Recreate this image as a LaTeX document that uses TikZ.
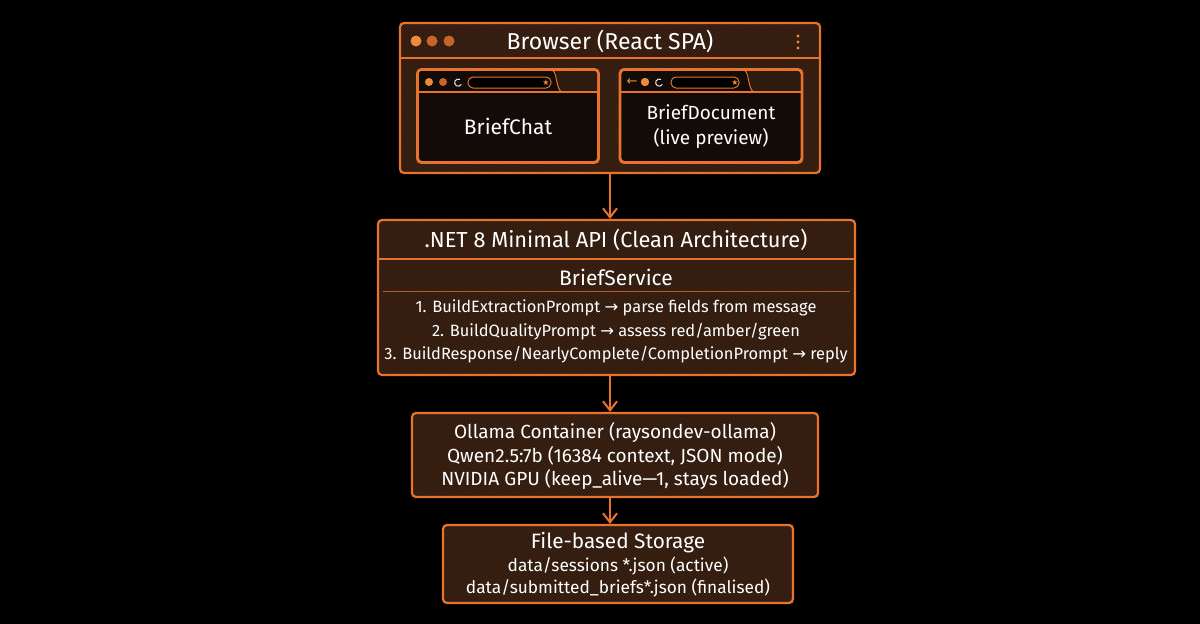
\documentclass[tikz,border=0pt]{standalone}
\usepackage{fontspec}
\setmainfont{Fira Sans}
\newfontfamily\symfont{DejaVu Sans}
\usetikzlibrary{arrows.meta,patterns,calc}
\definecolor{org}{HTML}{E8732C}
\definecolor{orgdim}{HTML}{B85A24}
\definecolor{dotA}{HTML}{F0893C}
\definecolor{dotB}{HTML}{C8642A}
\definecolor{boxfill}{HTML}{3E2415}
\definecolor{streak}{HTML}{24140A}
\definecolor{winfill}{HTML}{120B07}
\definecolor{hdrfill}{HTML}{2E1B0F}
\newcommand{\rarr}{{\symfont →}}
\begin{document}
\begin{tikzpicture}[x=1pt,y=-1pt,
  box/.style={draw=org, line width=2.2pt, rounded corners=4pt,
    preaction={fill=boxfill}, pattern=north east lines, pattern color=streak,
    inner sep=0pt},
  win/.style={draw=org, line width=1.8pt, rounded corners=4pt, fill=winfill, inner sep=0pt},
  sep/.style={draw=org, line width=1.8pt},
  thinsep/.style={draw=orgdim, line width=0.8pt},
  txt/.style={text=white, inner sep=0pt, align=center},
  arr/.style={draw=org, line width=2pt, -{Straight Barb[length=9pt,width=14pt,line width=2pt]}},
  addr/.style={draw=org, line width=1pt, rounded corners=5pt, fill=black},
]
\useasboundingbox (0,0) rectangle (1200,624);
\fill[black] (0,0) rectangle (1200,624);

% ---------------- Browser ----------------
\node[box, minimum width=420pt, minimum height=150pt] (browser) at (610,98) {};
\draw[sep] (browser.west |- 0,58) -- (browser.east |- 0,58);
\node[txt, font=\fontsize{23}{25}\selectfont] (browsertitle) at (610,41) {Browser (React SPA)};
\fill[dotA] (416,41) circle (5.5pt);
\fill[dotB] (432,41) circle (5.5pt);
\fill[dotB] (449,41) circle (5.5pt);
\foreach \yy in {36,42,48} \fill[dotA] (798,\yy) circle (1.7pt);

% inner window: BriefChat
\node[win, minimum width=180pt, minimum height=92pt] (chat) at (508,116) {};
\fill[hdrfill] (419,92) [rounded corners=3pt] -- (419,71) -- (597,71) [sharp corners] -- (597,92) -- cycle;
\fill[winfill] (419,92) [rounded corners=3pt] -- (419,71) -- (553,71) [sharp corners] .. controls (557,72) and (556,90) .. (562,92) -- cycle;
\draw[org, line width=1pt] (553,71) .. controls (557,72) and (556,90) .. (562,92);
\draw[win, fill=none] (chat.north west) rectangle (chat.south east);
\draw[sep] (chat.west |- 0,92) -- (chat.east |- 0,92);
\fill[dotA] (429,82) circle (4pt);
\fill[dotB] (443,82) circle (4pt);
\draw[white!85!gray, line width=1pt] (460,79.5) arc[start angle=60, end angle=330, radius=3.6pt];
\draw[addr] (468,77) rectangle (551,88);
\node[txt, text=dotA, font=\symfont\fontsize{8}{8}\selectfont] (chatstar) at (546,82.5) {★};
\node[txt, font=\fontsize{21}{23}\selectfont] (chatlabel) at (508,126) {BriefChat};

% inner window: BriefDocument
\node[win, minimum width=181pt, minimum height=92pt] (doc) at (711,116) {};
\fill[hdrfill] (622,92) [rounded corners=3pt] -- (622,71) -- (800,71) [sharp corners] -- (800,92) -- cycle;
\fill[winfill] (622,92) [rounded corners=3pt] -- (622,71) -- (745,71) [sharp corners] .. controls (749,72) and (748,90) .. (754,92) -- cycle;
\draw[org, line width=1pt] (745,71) .. controls (749,72) and (748,90) .. (754,92);
\draw[win, fill=none] (doc.north west) rectangle (doc.south east);
\draw[sep] (doc.west |- 0,92) -- (doc.east |- 0,92);
\node[txt, text=dotA, font=\symfont\fontsize{13}{13}\selectfont] (docback) at (632,82) {←};
\fill[dotA] (645,82) circle (4.2pt);
\draw[white!85!gray, line width=1pt] (661,79.5) arc[start angle=60, end angle=330, radius=3.6pt];
\draw[addr] (671,77) rectangle (739,88);
\node[txt, text=dotA, font=\symfont\fontsize{8}{8}\selectfont] (docstar) at (735,82.5) {★};
\node[txt, font=\fontsize{19}{25}\selectfont] (doclabel) at (711,127) {BriefDocument\\(live preview)};

% ---------------- API ----------------
\node[box, minimum width=477pt, minimum height=155pt] (api) at (616.5,297.5) {};
\draw[sep] (api.west |- 0,259) -- (api.east |- 0,259);
\draw[thinsep] ($(api.west |- 0,291)+(6,0)$) -- ($(api.east |- 0,291)+(-6,0)$);
\node[txt, font=\fontsize{21.8}{23}\selectfont] (apititle) at (616,240) {.NET 8 Minimal API (Clean Architecture)};
\node[txt, font=\fontsize{21}{23}\selectfont] (svc) at (616,277) {BriefService};
\node[txt, font=\fontsize{16.4}{19}\selectfont] (l1) at (616,308) {1. BuildExtractionPrompt \rarr\ parse fields from message};
\node[txt, font=\fontsize{16.4}{19}\selectfont] (l2) at (616,332) {2. BuildQualityPrompt \rarr\ assess red/amber/green};
\node[txt, font=\fontsize{16.4}{19}\selectfont] (l3) at (616,355) {3. BuildResponse/NearlyComplete/CompletionPrompt \rarr\ reply};

% ---------------- Ollama ----------------
\node[box, minimum width=406pt, minimum height=84pt] (ollama) at (615,455) {};
\node[txt, font=\fontsize{19}{21}\selectfont] (o1) at (615,432) {Ollama Container (raysondev-ollama)};
\node[txt, font=\fontsize{19}{21}\selectfont] (o2) at (615,456) {Qwen2.5:7b (16384 context, JSON mode)};
\node[txt, font=\fontsize{19}{21}\selectfont] (o3) at (615,479) {NVIDIA GPU (keep\_alive—1, stays loaded)};

% ---------------- Storage ----------------
\node[box, minimum width=350pt, minimum height=78pt] (store) at (618,564) {};
\node[txt, font=\fontsize{20.8}{23}\selectfont] (s1) at (618,543) {File-based Storage};
\node[txt, font=\fontsize{17.3}{19}\selectfont] (s2) at (618,566) {data/sessions *.json (active)};
\node[txt, font=\fontsize{17.3}{19}\selectfont] (s3) at (618,588) {data/submitted\_briefs*.json (finalised)};

% ---------------- connectors ----------------
\draw[arr] (browser.south) -- (browser.south |- api.north);
\draw[arr] (api.south -| browser.south) -- (browser.south |- ollama.north);
\draw[arr] (ollama.south -| browser.south) -- (browser.south |- store.north);
\end{tikzpicture}
\end{document}
